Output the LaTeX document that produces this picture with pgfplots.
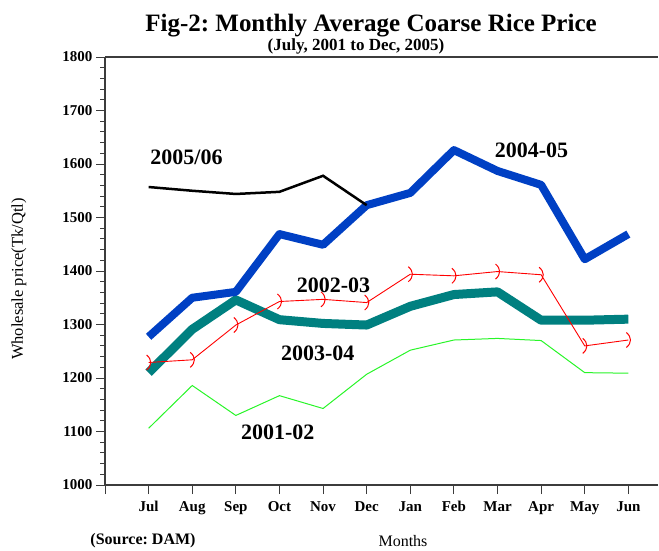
\documentclass[border=0pt]{standalone}
\usepackage{pgfplots}
\pgfplotsset{compat=1.18}
\usepackage{fontspec}
\setmainfont{Liberation Serif}
\frenchspacing
\definecolor{dblue}{RGB}{0,64,196}
\definecolor{dteal}{RGB}{0,128,128}
\definecolor{lgreen}{RGB}{40,245,40}
\definecolor{axgray}{RGB}{60,60,60}
\pgfdeclareplotmark{paren}{%
  \pgfpathmoveto{\pgfpoint{-2pt}{7.5pt}}%
  \pgfpathcurveto{\pgfpoint{3.5pt}{3pt}}{\pgfpoint{3.5pt}{-3pt}}{\pgfpoint{-2pt}{-7.5pt}}%
  \pgfusepathqstroke}
\begin{document}
\begin{tikzpicture}[x=1pt,y=1pt]
\useasboundingbox (0,0) rectangle (659,550);
\node[anchor=base,font=\fontsize{25}{25}\selectfont\bfseries] at (371,518) {Fig-2: Monthly Average Coarse Rice Price};
\node[anchor=base,font=\fontsize{17}{17}\selectfont\bfseries] at (356,499) {(July, 2001 to Dec, 2005)};
\node[font=\fontsize{16}{16}\selectfont] at (403,9) {Months};
\node[font=\fontsize{16}{16}\selectfont\bfseries] at (143,9) {(Source: DAM)};
\node[rotate=90,font=\fontsize{16.5}{16.5}\selectfont] at (19,271) {Wholesale price(Tk/Qtl)};
\begin{axis}[
  at={(105pt,65pt)}, anchor=south west,
  scale only axis, width=553pt, height=428pt,
  xmin=0, xmax=12.68, ymin=1000, ymax=1800,
  axis lines=left,
  axis line style={-, line width=1.2pt, color=axgray},
  tick align=outside,
  major tick length=9pt, minor tick length=5pt,
  tick style={line width=1pt, color=axgray},
  xtick={0,...,12},
  xticklabels={,Jul,Aug,Sep,Oct,Nov,Dec,Jan,Feb,Mar,Apr,May,Jun},
  ytick={1000,1100,...,1800},
  minor y tick num=4,
  /pgf/number format/assume math mode=true,
  /pgf/number format/1000 sep={},
  ticklabel style={font=\fontsize{15}{15}\selectfont\bfseries},
  xticklabel style={yshift=-4pt},
  clip=false,
]
\draw[line width=1.2pt, axgray] (rel axis cs:0,1) -- (rel axis cs:1,1);
\addplot[lgreen, line width=1pt, mark=none] coordinates {
(1,1106)(2,1186)(3,1130)(4,1167)(5,1143)(6,1207)(7,1252)(8,1271)(9,1274)(10,1270)(11,1210)(12,1209)};
\addplot[dteal, line width=9pt, line join=round, mark=none] coordinates {
(1,1210)(2,1291)(3,1346)(4,1309)(5,1302)(6,1299)(7,1334)(8,1356)(9,1361)(10,1308)(11,1308)(12,1310)};
\addplot[red, line width=0.9pt, mark=paren, mark options={line width=1pt}] coordinates {
(1,1229)(2,1234)(3,1299)(4,1343)(5,1347)(6,1341)(7,1394)(8,1391)(9,1399)(10,1393)(11,1260)(12,1271)};
\addplot[dblue, line width=8pt, line join=round, mark=none] coordinates {
(1,1277)(2,1350)(3,1361)(4,1469)(5,1449)(6,1523)(7,1546)(8,1626)(9,1587)(10,1561)(11,1422)(12,1469)};
\addplot[black, line width=2.5pt, mark=none] coordinates {
(1,1557)(2,1550)(3,1544)(4,1548)(5,1578)(6,1523)};
\node[font=\fontsize{22}{22}\selectfont\bfseries] at (axis cs:1.87,1613) {2005/06};
\node[font=\fontsize{22}{22}\selectfont\bfseries] at (axis cs:9.78,1626) {2004-05};
\node[font=\fontsize{22}{22}\selectfont\bfseries] at (axis cs:5.24,1374) {2002-03};
\node[font=\fontsize{22}{22}\selectfont\bfseries] at (axis cs:4.88,1247) {2003-04};
\node[font=\fontsize{22}{22}\selectfont\bfseries] at (axis cs:3.96,1099) {2001-02};
\end{axis}
\end{tikzpicture}
\end{document}
